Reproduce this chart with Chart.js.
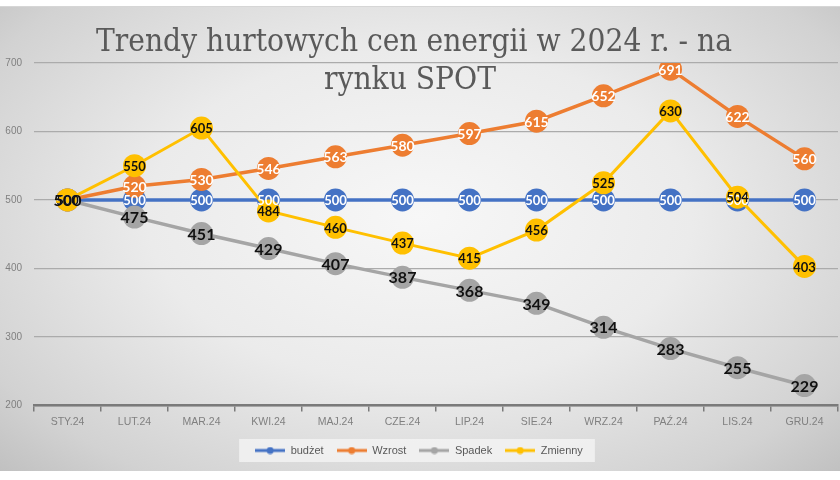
<!DOCTYPE html>
<html>
<head>
<meta charset="utf-8">
<script src="https://cdn.jsdelivr.net/npm/chart.js@4.4.1/dist/chart.umd.min.js"></script>
<style>
    html, body { margin: 0; padding: 0; background: #fff; }
    #wrap { position: relative; width: 840px; height: 480px; }
    #bg {
        position: absolute; left: 0; top: 6px; width: 840px; height: 464px;
        background: radial-gradient(ellipse 72% 80% at 50% 45%, #f7f7f7 0%, #ebebeb 45%, #d2d2d2 82%, #bebebe 100%);
        border-top: 1px solid #d6d6d6;
    }
    canvas { position: absolute; left: 0; top: 0; }
</style>
</head>
<body>
<div id="wrap">
    <div id="bg"></div>
    <canvas id="chart" width="840" height="480"></canvas>
</div>
<script>
// data
const months = ["STY.24", "LUT.24", "MAR.24", "KWI.24", "MAJ.24", "CZE.24",
                "LIP.24", "SIE.24", "WRZ.24", "PAŹ.24", "LIS.24", "GRU.24"];
const budzet  = [500, 500, 500, 500, 500, 500, 500, 500, 500, 500, 500, 500];
const wzrost  = [500, 520, 530, 546, 563, 580, 597, 615, 652, 691, 622, 560];
const spadek  = [500, 475, 451, 429, 407, 387, 368, 349, 314, 283, 255, 229];
const zmienny = [500, 550, 605, 484, 460, 437, 415, 456, 525, 630, 504, 403];
const yTicks  = [200, 300, 400, 500, 600, 700];
const titleLines = ["Trendy hurtowych cen energii w 2024 r. - na", "rynku SPOT"];

const BLUE = "#4472C4", ORANGE = "#ED7D31", GREY = "#A5A5A5", YELLOW = "#FFC000";

// little "line with a dot" legend marker, like Excel draws it
function legendMarker(color) {
    const c = document.createElement("canvas");
    c.width = 30; c.height = 8;
    const g = c.getContext("2d");
    g.strokeStyle = color;
    g.lineWidth = 3;
    g.beginPath(); g.moveTo(0, 4); g.lineTo(30, 4); g.stroke();
    g.fillStyle = color;
    g.beginPath(); g.arc(15, 4, 3.5, 0, Math.PI * 2); g.fill();
    return c;
}
const markers = [legendMarker(BLUE), legendMarker(ORANGE), legendMarker(GREY), legendMarker(YELLOW)];

const titlePlugin = {
    id: "slabTitle",
    beforeDatasetsDraw(chart) {
        const ctx = chart.ctx;
        ctx.save();
        ctx.fillStyle = "#5a5a5a";
        ctx.font = '31px "DejaVu Serif"';
        ctx.textAlign = "center";
        ctx.textBaseline = "alphabetic";
        const sx = 636 / ctx.measureText(titleLines[0]).width;
        ctx.translate(414, 0);
        ctx.scale(sx, 1);
        ctx.fillText(titleLines[0], 0, 51);
        ctx.fillText(titleLines[1], -4 / sx, 89);
        ctx.restore();
    }
};

const legendBoxPlugin = {
    id: "legendBox",
    beforeDraw(chart) {
        const boxes = chart.legend && chart.legend.legendHitBoxes;
        if (!boxes || !boxes.length) return;
        const left = Math.min(...boxes.map(b => b.left)) - 16;
        const right = Math.max(...boxes.map(b => b.left + b.width)) + 12;
        const top = boxes[0].top - 6;
        const ctx = chart.ctx;
        ctx.save();
        ctx.fillStyle = "rgba(245,245,245,0.75)";
        ctx.fillRect(left, top, right - left, boxes[0].height + 12);
        ctx.restore();
    }
};

const valueLabels = {
    id: "valueLabels",
    afterDatasetsDraw(chart) {
        const ctx = chart.ctx;
        ctx.save();
        ctx.textAlign = "center";
        ctx.textBaseline = "middle";
        chart.data.datasets.forEach((ds, i) => {
            const meta = chart.getDatasetMeta(i);
            ctx.fillStyle = ds.labelColor;
            ctx.font = ds.labelFont;
            meta.data.forEach((pt, j) => {
                ctx.fillText(ds.data[j], pt.x, pt.y + 1);
            });
        });
        ctx.restore();
    }
};

function series(label, data, color, order, labelColor, labelFont, width) {
    return {
        label: label,
        data: data,
        borderColor: color,
        backgroundColor: color,
        borderWidth: width,
        pointStyle: "circle",
        pointRadius: 11.5,
        pointHoverRadius: 11.5,
        pointBorderWidth: 0,
        pointBackgroundColor: color,
        tension: 0,
        order: order,
        labelColor: labelColor,
        labelFont: labelFont
    };
}

new Chart(document.getElementById("chart"), {
    type: "line",
    data: {
        labels: months,
        datasets: [
            series("budżet", budzet, BLUE, 4, "#ffffff", 'bold 13px "Lato"', 3.5),
            series("Wzrost", wzrost, ORANGE, 3, "#ffffff", 'bold 14px "Lato"', 3.5),
            series("Spadek", spadek, GREY, 2, "#111111", 'bold 16px "Lato"', 3.5),
            series("Zmienny", zmienny, YELLOW, 1, "#111111", 'bold 13px "Lato"', 3)
        ]
    },
    options: {
        responsive: false,
        devicePixelRatio: 1,
        animation: false,
        events: [],
        layout: { autoPadding: false, padding: { top: 63, right: 2, left: 0, bottom: 14 } },
        plugins: {
            title: { display: false },
            tooltip: { enabled: false },
            legend: {
                position: "bottom",
                labels: {
                    usePointStyle: true,
                    pointStyleWidth: 30,
                    color: "#595959",
                    font: { family: "Liberation Sans", size: 11 },
                    padding: 13,
                    sort: (a, b) => a.datasetIndex - b.datasetIndex,
                    generateLabels(chart) {
                        const items = Chart.defaults.plugins.legend.labels.generateLabels(chart);
                        return items.map(it => Object.assign(it, { pointStyle: markers[it.datasetIndex] }));
                    }
                }
            }
        },
        scales: {
            x: {
                offset: true,
                afterFit(axis) {
                    axis.paddingLeft = 0;
                    axis.paddingRight = 0;
                },
                grid: {
                    display: true,
                    drawOnChartArea: false,
                    offset: true,
                    tickLength: 6,
                    color: "#7a7a7a",
                    lineWidth: 1.5
                },
                border: { color: "#7a7a7a", width: 2.5 },
                ticks: {
                    color: "#808080",
                    font: { family: "Liberation Sans", size: 10.5 },
                    padding: 4,
                    maxRotation: 0
                }
            },
            y: {
                min: 200,
                max: 700,
                afterBuildTicks(axis) {
                    axis.ticks = yTicks.map(v => ({ value: v }));
                },
                afterFit(axis) {
                    axis.width = 34;
                },
                grid: { color: "#ababab", lineWidth: 1.2, drawTicks: false },
                border: { display: false },
                ticks: {
                    color: "#808080",
                    font: { family: "Liberation Sans", size: 10 },
                    padding: 12
                }
            }
        }
    },
    plugins: [legendBoxPlugin, titlePlugin, valueLabels]
});
</script>
</body>
</html>
